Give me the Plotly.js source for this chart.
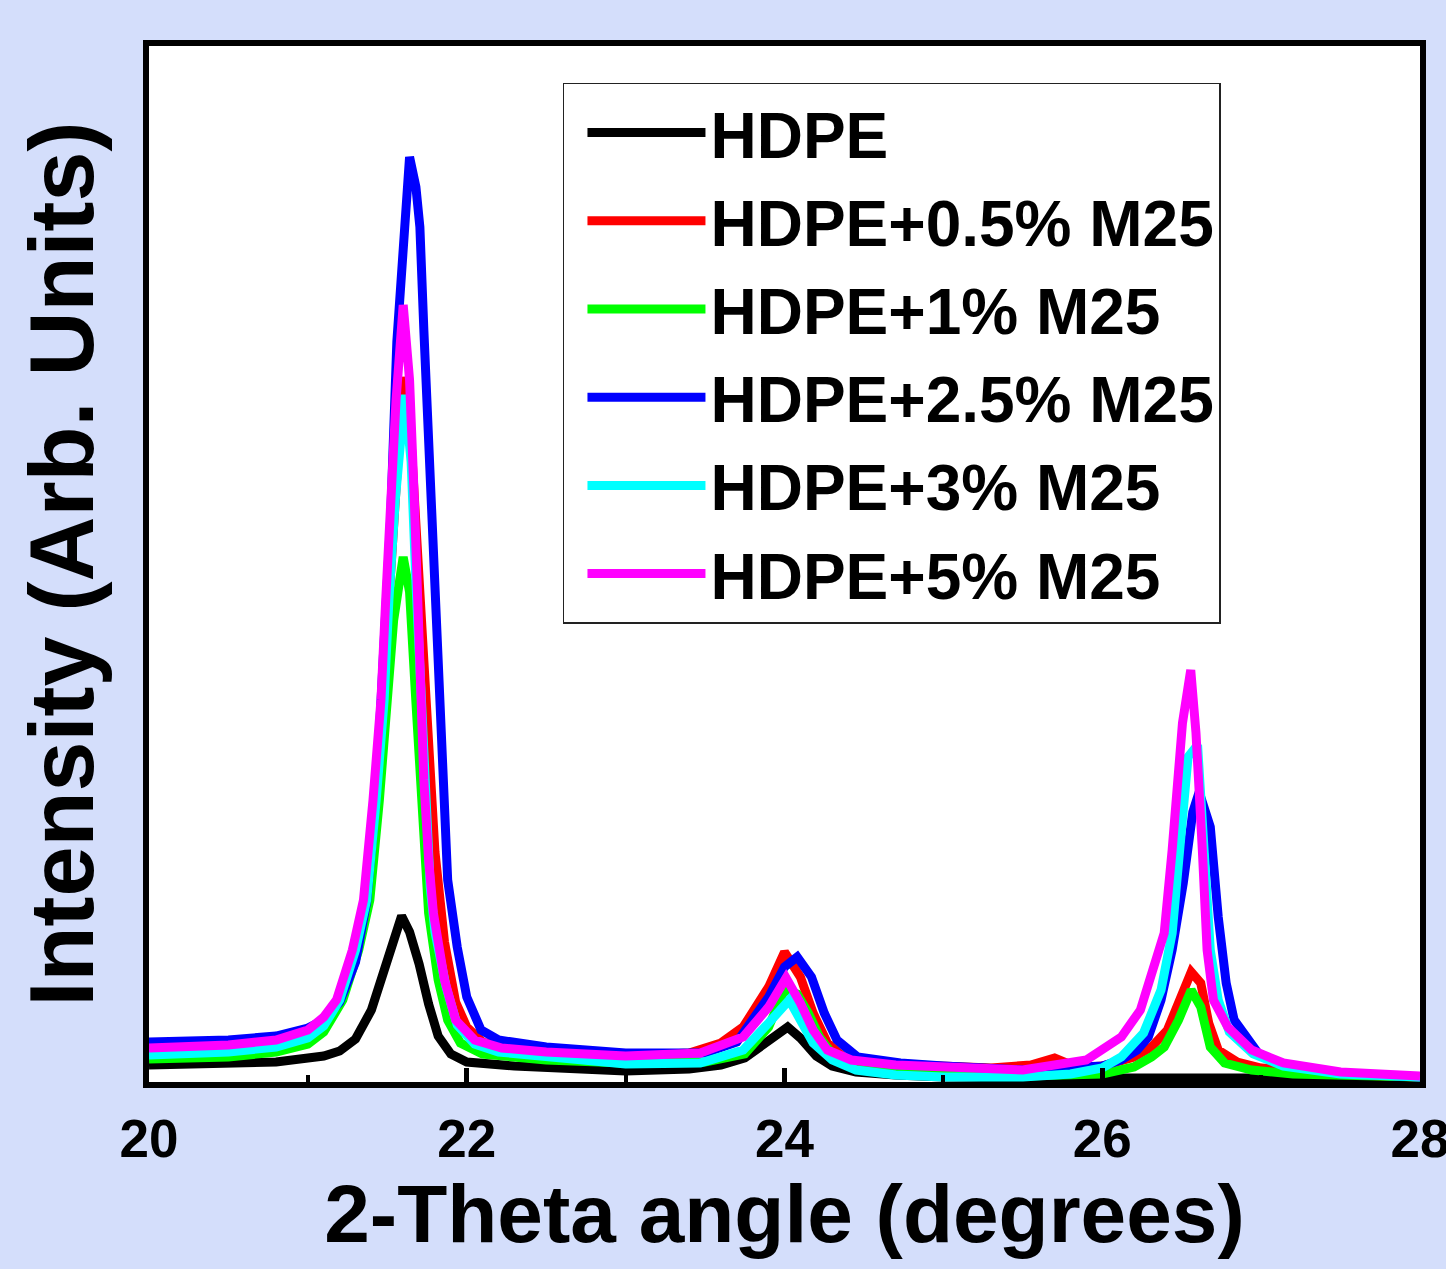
<!DOCTYPE html>
<html>
<head>
<meta charset="utf-8">
<script src="https://cdn.plot.ly/plotly-3.0.1.min.js"></script>
<style>html,body{margin:0;padding:0;background:#D4DEFB;}#chart{width:1446px;height:1269px;}</style>
</head>
<body>
<div id="chart"></div>
<script>
var seriesNames = ["HDPE","HDPE+0.5% M25","HDPE+1% M25","HDPE+2.5% M25","HDPE+3% M25","HDPE+5% M25"];
var seriesColors = ["#000000","#FF0000","#00FF00","#0000FF","#00FFFF","#FF00FF"];
var xTickVals = [20,22,24,26,28];
var xTickText = ["20","22","24","26","28"];

var hdpeX = [20.0,20.3,20.6,20.8,21.0,21.1,21.2,21.3,21.4,21.47,21.53,21.59,21.64,21.7,21.76,21.82,21.9,22.0,22.3,22.6,23.0,23.4,23.6,23.75,23.9,24.02,24.1,24.2,24.3,24.45,24.7,25.0,25.5,26.0,26.5,27.0,27.5,28.0];
var hdpeY = [17,18,18,20,24,26,31,43,72,105,140,166,150,118,78,46,28,20,16,14,11,13,17,24,40,55,44,26,16,10,7,5,4,4,4,4,4,4];

var m05X = [20.0,20.5,20.8,21.0,21.1,21.2,21.3,21.37,21.43,21.48,21.51,21.55,21.6,21.65,21.7,21.75,21.8,21.86,21.93,22.0,22.1,22.3,22.6,23.0,23.4,23.6,23.74,23.9,24.0,24.1,24.18,24.27,24.37,24.5,24.7,25.0,25.3,25.55,25.7,25.85,26.0,26.2,26.31,26.41,26.49,26.56,26.62,26.67,26.73,26.85,27.0,27.3,27.6,28.0];
var m05Y = [27,30,35,45,56,82,132,182,282,382,482,582,705,640,500,350,230,140,80,55,40,32,27,26,29,39,55,95,130,105,69,39,25,19,18,15,14,17,24,14,16,25,35,52,82,110,99,59,32,20,14,10,7,5];

var m1X = [20.0,20.5,20.8,21.0,21.1,21.22,21.32,21.39,21.45,21.5,21.54,21.6,21.64,21.68,21.72,21.76,21.82,21.88,21.96,22.1,22.5,23.0,23.5,23.75,23.9,24.0,24.08,24.15,24.22,24.3,24.45,24.7,25.0,25.5,26.0,26.2,26.31,26.39,26.48,26.56,26.62,26.68,26.77,26.94,27.2,27.6,28.0];
var m1Y = [23,25,30,38,50,82,132,182,282,382,462,525,490,380,270,169,102,62,39,28,22,19,20,28,55,92,88,69,45,28,15,10,8,6,8,15,25,35,62,92,75,35,19,12,8,6,5];

var m25X = [20.0,20.5,20.8,21.0,21.1,21.2,21.3,21.37,21.43,21.48,21.52,21.56,21.6,21.64,21.68,21.705,21.73,21.756,21.79,21.82,21.85,21.88,21.94,22.0,22.09,22.2,22.5,23.0,23.5,23.7,23.9,24.0,24.08,24.17,24.25,24.33,24.46,24.73,25.0,25.5,26.0,26.12,26.22,26.29,26.37,26.44,26.51,26.57,26.61,26.68,26.73,26.78,26.83,26.98,27.14,27.5,28.0];
var m25Y = [40,42,46,54,62,80,120,180,290,420,560,740,822,925,895,855,752,652,532,382,282,202,135,85,52,42,35,29,29,40,85,115,125,105,69,42,25,19,16,12,16,22,32,45,82,132,199,270,290,255,165,99,62,29,17,9,5];

var m3X = [20.0,20.5,20.8,21.0,21.1,21.2,21.3,21.37,21.43,21.48,21.51,21.55,21.61,21.65,21.68,21.71,21.74,21.77,21.8,21.87,21.94,22.05,22.2,22.5,23.0,23.47,23.74,23.9,24.03,24.1,24.18,24.3,24.45,24.7,25.0,25.5,25.8,26.0,26.12,26.26,26.37,26.44,26.49,26.54,26.6,26.64,26.68,26.73,26.8,26.95,27.14,27.5,28.0];
var m3Y = [27,30,35,44,56,82,132,182,282,382,482,582,687,620,500,380,270,195,150,95,57,38,30,25,18,19,32,59,82,62,39,22,12,7,5,5,8,14,25,49,92,149,232,325,337,232,132,82,50,28,16,8,5];

var m5X = [20.0,20.5,20.8,21.0,21.1,21.18,21.28,21.35,21.41,21.46,21.49,21.52,21.555,21.6,21.64,21.67,21.7,21.73,21.76,21.79,21.86,21.93,22.05,22.22,22.5,23.0,23.47,23.74,23.9,24.01,24.1,24.18,24.27,24.42,24.7,25.0,25.5,25.9,25.99,26.12,26.24,26.33,26.39,26.44,26.505,26.557,26.59,26.63,26.66,26.7,26.79,26.94,27.14,27.5,28.0];
var m5Y = [34,37,42,52,65,82,132,182,282,382,482,582,682,777,702,582,432,302,222,169,102,62,42,34,30,26,29,45,75,104,79,52,32,22,17,15,12,22,32,45,72,115,149,232,359,412,349,232,132,82,55,32,19,10,6];

var xs = [hdpeX, m05X, m1X, m25X, m3X, m5X];
var ys = [hdpeY, m05Y, m1Y, m25Y, m3Y, m5Y];

var FONT = "Liberation Sans, Arial, Helvetica, sans-serif";

var traces = seriesNames.map(function(n, i){
  return {
    x: xs[i], y: ys[i], name: n, type: 'scatter', mode: 'lines',
    legendgroup: 'g' + i,
    line: {color: seriesColors[i], width: 9, shape: 'linear'}
  };
});

var layout = {
  width: 1446, height: 1269,
  paper_bgcolor: '#D4DEFB',
  plot_bgcolor: '#FFFFFF',
  margin: {l: 149, r: 26, t: 46, b: 187},
  showlegend: true,
  legend: {
    x: 0.3257, y: 0.9643, xanchor: 'left', yanchor: 'top',
    bgcolor: '#FFFFFF', bordercolor: '#222222', borderwidth: 1.5,
    font: {family: FONT, size: 64, color: '#000000', weight: 'bold'},
    itemwidth: 118, tracegroupgap: 2, indentation: 18
  },
  xaxis: {
    range: [20, 28], showgrid: false, zeroline: false,
    tickvals: xTickVals, ticktext: xTickText,
    ticks: 'inside', ticklen: 14, tickwidth: 5, tickcolor: '#000',
    minor: {dtick: 1, ticks: 'inside', ticklen: 7, tickwidth: 4, tickcolor: '#000', showgrid: false},
    showline: true, linecolor: '#000', linewidth: 6, mirror: true,
    tickfont: {family: FONT, size: 53, color: '#000', weight: 'bold'},
    ticklabelstandoff: 5, ticklabeloverflow: 'allow',
    title: {text: '2-Theta angle (degrees)', standoff: 14,
            font: {family: FONT, size: 82, color: '#000', weight: 'bold'}}
  },
  yaxis: {
    range: [0, 1036], showgrid: false, zeroline: false,
    showticklabels: false, ticks: '',
    showline: true, linecolor: '#000', linewidth: 6, mirror: true,
    title: {text: 'Intensity (Arb. Units)', standoff: 22,
            font: {family: FONT, size: 90, color: '#000', weight: 'bold'}}
  }
};

Plotly.newPlot('chart', traces, layout, {displayModeBar: false, staticPlot: true});
</script>
</body>
</html>
